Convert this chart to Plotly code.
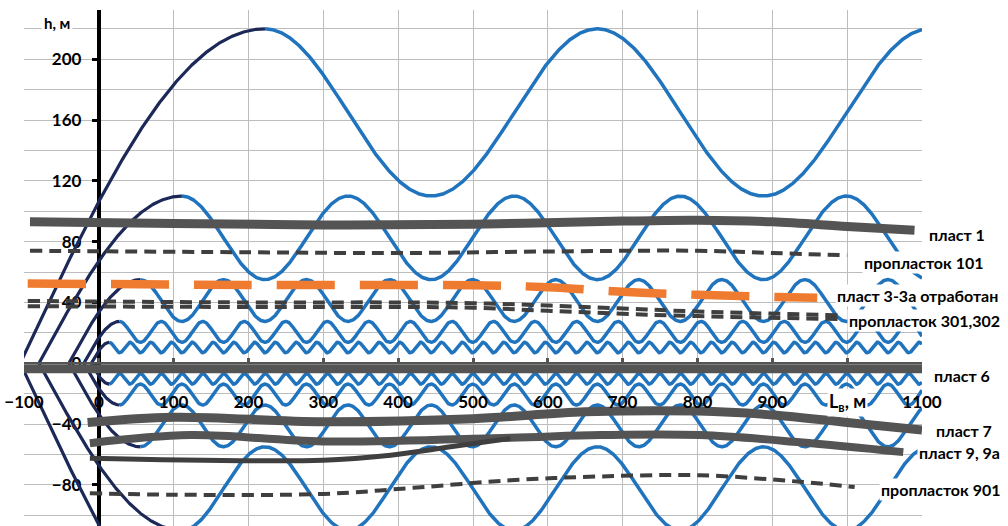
import numpy as np
import plotly.graph_objects as go

# ---- wave trains above and below seam 6 -------------------------------
# crest height (m), wavelength (m), position of first crest (m)
crest_h = [220, 110, 55, 27.5, 13.75]
wave_len = [444, 222, 111, 55.5, 27.75]
crest_x = [222, 111, 55.5, 27.75, 13.9]
# x where the rising branch of each train leaves h = 0
rise_x0 = [-105, -80, -40, -20, -10]
x_end = 1100

# ---- seams --------------------------------------------------------------
seam1_x = [-92, 100, 300, 500, 700, 800, 900, 1000, 1090]
seam1_h = [93, 92, 91, 91.5, 93.5, 94, 93, 90, 87.5]

band101_x = [-92, 200, 400, 600, 800, 900, 1000]
band101_h = [74, 73, 72.5, 73.5, 74, 72.5, 71]

seam3_x = [-95, 200, 500, 600, 700, 800, 960]
seam3_h = [52.5, 51.5, 51.3, 50, 47, 45, 43]

band301_x = [-95, 200, 400, 500, 600, 700, 800, 990]
band301_h = [41, 40, 40, 39.5, 38, 36, 34, 31.5]
band302_x = [-95, 200, 400, 500, 600, 700, 800, 990]
band302_h = [37.5, 37, 37, 36.5, 34.5, 32.5, 31, 29]

seam6_x = [-100, 1100]
seam6_h = [-3.7, -3.7]

seam7_x = [-15, 100, 300, 500, 650, 800, 900, 1000, 1100]
seam7_h = [-39, -35.5, -38.5, -36.5, -32, -31.5, -34, -39, -44]

seam9_x = [-12, 122, 300, 550, 670, 803, 937, 1075]
seam9_h = [-52.6, -47.3, -51.5, -49, -47.3, -47.3, -52, -58.5]
seam9a_x = [-12, 300, 390, 470, 550]
seam9a_h = [-62.5, -63.8, -60.5, -55, -49.5]

band901_x = [-12, 100, 300, 420, 550, 670, 803, 937, 1010]
band901_h = [-85.5, -86.5, -86, -82, -77, -74.5, -73.7, -78, -81.5]

# labelled x ticks; the 1000 m line carries the axis title instead
x_ticks = [-100, 0, 100, 200, 300, 400, 500, 600, 700, 800, 900, 1100]
x_title_at = 1000

BLUE = "#2073BD"
NAVY = "#1C2857"
GRAY = "#545454"
DARK = "#3F3F3F"
ORANGE = "#EF7B30"
GRID = "#BDBDBD"

fig = go.Figure()

# wave trains (mirrored about h = 0) and their rising branches
for H, L, xc, x0 in zip(crest_h, wave_len, crest_x, rise_x0):
    xs = np.linspace(xc, x_end, 1200)
    hs = H * (0.75 + 0.25 * np.cos(2 * np.pi * (xs - xc) / L))
    xr = np.linspace(x0, xc, 300)
    hr = H * np.sin(0.5 * np.pi * (xr - x0) / (xc - x0))
    for sgn in (1, -1):
        fig.add_trace(go.Scatter(x=xs, y=sgn * hs, mode="lines",
                                 line=dict(color=BLUE, width=3.5), hoverinfo="skip"))
        fig.add_trace(go.Scatter(x=xr, y=sgn * hr, mode="lines",
                                 line=dict(color=NAVY, width=3.2), hoverinfo="skip"))


def seam(x, h, color, width, dash="solid"):
    fig.add_trace(go.Scatter(x=x, y=h, mode="lines",
                             line=dict(color=color, width=width, dash=dash,
                                       shape="spline", smoothing=1.0),
                             hoverinfo="skip"))


seam(seam1_x, seam1_h, GRAY, 9)
seam(band101_x, band101_h, DARK, 4, "12px,7px")
seam(seam3_x, seam3_h, ORANGE, 8.5, "58px,25px")
seam(band301_x, band301_h, DARK, 4, "12px,7px")
seam(band302_x, band302_h, DARK, 4, "12px,7px")
seam(seam6_x, seam6_h, GRAY, 9)
seam(seam7_x, seam7_h, GRAY, 9)
seam(seam9_x, seam9_h, GRAY, 8)
seam(seam9a_x, seam9a_h, DARK, 5)
seam(band901_x, band901_h, DARK, 4, "12px,7px")

y_min, y_max = -107.1, 232.4
x_min, x_max = -100, 1100

fig.update_layout(
    width=1008, height=526,
    margin=dict(l=24, r=86, t=10, b=0),
    template="none",
    paper_bgcolor="white", plot_bgcolor="white",
    showlegend=False,
    xaxis=dict(
        range=[x_min, x_max], tickmode="array", tickvals=x_ticks,
        showgrid=True, gridcolor=GRID, gridwidth=1.3, zeroline=False,
        minor=dict(tickmode="array", tickvals=[x_title_at], showgrid=True,
                   gridcolor=GRID, gridwidth=1.3, ticks="inside", ticklen=4,
                   tickwidth=3, tickcolor=GRAY),
        anchor="free", position=(0 - y_min) / (y_max - y_min),
        showline=True, linecolor=GRAY, linewidth=2,
        ticks="inside", ticklen=4, tickwidth=3, tickcolor=GRAY,
        tickfont=dict(family="Lato", size=17, color="black", weight="bold"),
        ticklabelstandoff=23, automargin=False,
        layer="above traces",
    ),
    yaxis=dict(
        range=[y_min, y_max], tick0=0, dtick=40,
        showgrid=True, gridcolor=GRID, gridwidth=1.3, zeroline=False,
        minor=dict(dtick=20, showgrid=True, gridcolor=GRID, gridwidth=1.3),
        anchor="free", position=(0 - x_min) / (x_max - x_min),
        showline=True, linecolor="black", linewidth=4,
        ticks="outside", ticklen=5, tickwidth=3, tickcolor="black",
        tickfont=dict(family="Lato", size=17, color="black", weight="bold"),
        ticklabelstandoff=7, automargin=False,
        layer="below traces",
    ),
)

label_font = dict(family="Lato", size=16, color="black", weight="bold")
# right-hand seam labels: horizontal position as a fraction of the plot width
labels = [
    ("пласт 1", 1.039, 84.4),
    ("пропласток 101", 1.002, 66.6),
    ("пласт 3-3а отработан", 0.9955, 44.3),
    ("пропласток 301,302", 1.003, 27.8),
    ("пласт 6", 1.0445, -8.4),
    ("пласт 7", 1.047, -44.5),
    ("пласт 9, 9а", 1.042, -59),
    ("пропласток 901", 1.021, -83.4),
]
for text, lx, ly in labels:
    fig.add_annotation(x=lx, y=ly, xref="paper", yref="y", text=text,
                       showarrow=False, font=label_font, bgcolor="white",
                       xanchor="center", yanchor="middle", borderpad=1)

# axis titles
fig.add_annotation(x=x_title_at, y=-26, xref="x", yref="y", text="L<sub>в</sub>, м",
                   showarrow=False, bgcolor="white", borderpad=1,
                   font=dict(family="Lato", size=18, color="black", weight="bold"))
fig.add_annotation(x=-56, y=224, xref="x", yref="y", text="h, м",
                   showarrow=False, bgcolor="white", borderpad=2,
                   font=dict(family="Lato", size=15, color="black", weight="bold"))

fig.write_html("out.html")
